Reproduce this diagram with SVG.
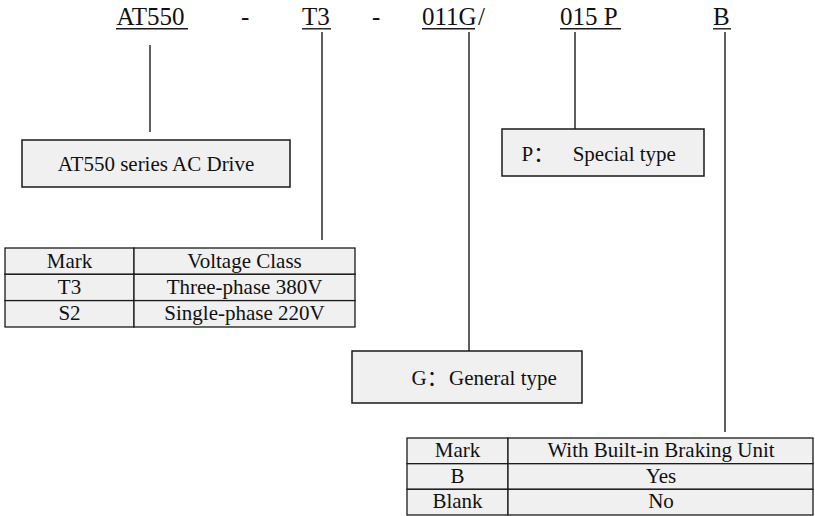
<svg xmlns="http://www.w3.org/2000/svg" width="815" height="516" viewBox="0 0 815 516">
<style>
text{font-family:"Liberation Serif","Noto Sans CJK SC",serif;fill:#111}
.top{font-size:25px}
.t{font-size:21px;text-anchor:middle}
.b{font-size:21px}
.box{fill:#f0f0f0;stroke:#1a1a1a;stroke-width:1.5}
.cell{fill:#f0f0f0;stroke:#1a1a1a;stroke-width:1.3}
.ln{stroke:#1a1a1a;stroke-width:1.4;fill:none}
</style>
<rect width="815" height="516" fill="#fff"/>
<g id="code">
<text class="top" x="116.5" y="25">AT550</text>
<line class="ln" x1="116" y1="28.8" x2="188" y2="28.8"/>
<text class="top" x="241" y="25">-</text>
<text class="top" x="302" y="25">T3</text>
<line class="ln" x1="302" y1="28.8" x2="331" y2="28.8"/>
<text class="top" x="372" y="25">-</text>
<text class="top" x="422" y="25">011G</text>
<line class="ln" x1="422" y1="28.8" x2="475" y2="28.8"/>
<text class="top" x="478" y="25">/</text>
<text class="top" x="560" y="25">015 P</text>
<line class="ln" x1="560" y1="28.8" x2="621" y2="28.8"/>
<text class="top" x="713" y="25">B</text>
<line class="ln" x1="713" y1="28.8" x2="731" y2="28.8"/>
</g>
<g id="connectors">
<line class="ln" x1="150" y1="45" x2="150" y2="132"/>
<line class="ln" x1="322" y1="32" x2="322" y2="240"/>
<line class="ln" x1="469" y1="32" x2="469" y2="351"/>
<line class="ln" x1="575" y1="32" x2="575" y2="129"/>
<line class="ln" x1="725" y1="32" x2="725" y2="432"/>
</g>
<g id="series-box">
<rect class="box" x="22" y="140" width="268" height="47"/>
<text class="t" x="156" y="170.5">AT550 series AC Drive</text>
</g>
<g id="special-box">
<rect class="box" x="502" y="129" width="202" height="47"/>
<text class="b" x="521.5" y="161">P：<tspan x="572.7">Special type</tspan></text>
</g>
<g id="general-box">
<rect class="box" x="352" y="351" width="230" height="52"/>
<text class="b" x="411.5" y="385">G：<tspan x="449">General type</tspan></text>
</g>
<g id="voltage-table">
<rect class="cell" x="5" y="248" width="129" height="26.3"/>
<rect class="cell" x="134" y="248" width="221" height="26.3"/>
<rect class="cell" x="5" y="274.3" width="129" height="26.3"/>
<rect class="cell" x="134" y="274.3" width="221" height="26.3"/>
<rect class="cell" x="5" y="300.6" width="129" height="26.4"/>
<rect class="cell" x="134" y="300.6" width="221" height="26.4"/>
<text class="t" x="69.5" y="267.5">Mark</text>
<text class="t" x="244.5" y="267.5">Voltage Class</text>
<text class="t" x="69.5" y="293.8">T3</text>
<text class="t" x="244.5" y="293.8">Three-phase 380V</text>
<text class="t" x="69.5" y="320.1">S2</text>
<text class="t" x="244.5" y="320.1">Single-phase 220V</text>
</g>
<g id="braking-table">
<rect class="cell" x="407" y="438" width="101" height="25.7"/>
<rect class="cell" x="508" y="438" width="305" height="25.7"/>
<rect class="cell" x="407" y="463.7" width="101" height="25.6"/>
<rect class="cell" x="508" y="463.7" width="305" height="25.6"/>
<rect class="cell" x="407" y="489.3" width="101" height="25.7"/>
<rect class="cell" x="508" y="489.3" width="305" height="25.7"/>
<text class="t" x="457.5" y="457">Mark</text>
<text class="t" x="661" y="457">With Built-in Braking Unit</text>
<text class="t" x="457.5" y="482.6">B</text>
<text class="t" x="661" y="482.6">Yes</text>
<text class="t" x="457.5" y="508.3">Blank</text>
<text class="t" x="661" y="508.3">No</text>
</g>
</svg>
